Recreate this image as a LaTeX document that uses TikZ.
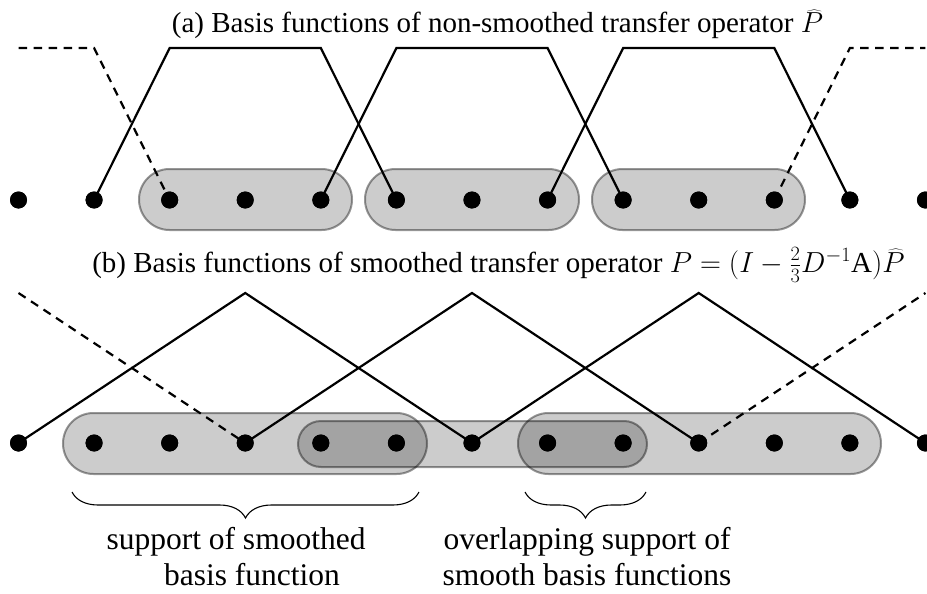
\RequirePackage{fix-cm}
\documentclass[tikz,border=0pt]{standalone}
\usepackage{fontspec}
\setmainfont{Liberation Serif}
\usetikzlibrary{decorations.pathreplacing}
\begin{document}
\begin{tikzpicture}[x=1pt,y=-1pt,
  dot/.style={circle,fill=black,inner sep=0pt,minimum size=17pt},
  fn/.style={line width=2.2pt,line join=miter},
  fndash/.style={fn,dash pattern=on 8.5pt off 6.5pt},
  support/.style={fill=black,fill opacity=0.2,draw=black,draw opacity=0.4,line width=2pt},
  bracestyle/.style={decorate,decoration={brace,mirror,amplitude=26pt},line width=1.1pt},
  title/.style={font=\fontsize{29}{35}\selectfont,anchor=base,inner sep=0pt},
  caption/.style={font=\fontsize{31.5}{36}\selectfont,align=center,anchor=base,inner sep=0pt}
]
\useasboundingbox[fill=white] (0,0) rectangle (927,594);

% grid points, plateau corners and hat peaks
\foreach \i in {0,...,12}{
  \coordinate (p\i) at ({18.5+75.58*\i},48);
  \coordinate (q\i) at ({18.5+75.58*\i},293);
}

% supports, upper row
\draw[support,rounded corners=30.5pt] (139,169) rectangle (352,230);
\draw[support,rounded corners=30.5pt] (365,169) rectangle (579,230);
\draw[support,rounded corners=30.5pt] (592,169) rectangle (805,230);

% supports, lower row
\draw[support,rounded corners=30.5pt] (63,413) rectangle (427,474);
\draw[support,rounded corners=30.5pt] (518,413) rectangle (881,474);
\draw[support,rounded corners=23pt] (298,421) rectangle (647,467);

% grid points
\foreach \i in {0,...,12}{
  \node[dot] (t\i) at ({18.5+75.58*\i},200) {};
  \node[dot] (b\i) at ({18.5+75.58*\i},443) {};
}

% non-smoothed basis functions
\draw[fndash] (p0) -- (p1) -- (t2.center);
\draw[fn] (t1.center) -- (p2) -- (p4) -- (t5.center);
\draw[fn] (t4.center) -- (p5) -- (p7) -- (t8.center);
\draw[fn] (t7.center) -- (p8) -- (p10) -- (t11.center);
\draw[fndash] (t10.center) -- (p11) -- (p12);

% smoothed basis functions
\draw[fndash] (q0) -- (b3.center);
\draw[fn] (b0.center) -- (q3) -- (b6.center);
\draw[fn] (b3.center) -- (q6) -- (b9.center);
\draw[fn] (b6.center) -- (q9) -- (b12.center);
\draw[fndash] (b9.center) -- (q12);

% points drawn again above the lines
\foreach \i in {0,...,12}{
  \fill (t\i) circle[radius=8.5pt];
  \fill (b\i) circle[radius=8.5pt];
}

% titles
\node[title] (ta) at (497.5,33) {(a) Basis functions of non-smoothed transfer operator $\widehat{P}$};
\node[title] (tb) at (498.5,272) {(b) Basis functions of smoothed transfer operator $P=\bigl(I-\frac{2}{3}D^{-1}\mathrm{A}\bigr)\widehat{P}$};

% braces and their captions
\coordinate (bl) at (72,492);
\coordinate (br) at (419,492);
\coordinate (ol) at (525,492);
\coordinate (or) at (646,492);
\draw[bracestyle] (bl) -- (br);
\draw[bracestyle] (ol) -- (or);
\node[caption] (cl) at (236,585) {support of smoothed\\\hspace*{32pt}basis function};
\node[caption] (cr) at (587,585) {overlapping support of\\smooth basis functions};
\end{tikzpicture}
\end{document}
